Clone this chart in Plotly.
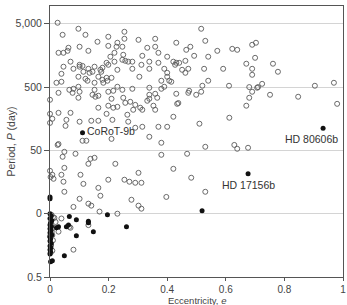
import numpy as np
import plotly.graph_objects as go

# open circles: eccentricity and period (days)
ecc_open = [0.026,0.043,0.097,0.121,0.199,0.254,0.254,0.302,0.029,0.046,0.060,0.063,0.101,0.131,0.162,0.199,0.230,0.227,0.220,0.247,
            0.206,0.250,0.257,0.247,0.267,0.281,0.315,0.070,0.046,0.039,0.022,0.039,0.029,0.080,0.101,0.101,0.111,0.097,0.114,0.131,
            0.135,0.121,0.128,0.152,0.145,0.172,0.175,0.179,0.193,0.199,0.165,0.152,0.179,0.193,0.196,0.182,0.210,0.220,0.230,0.281,
            0.305,0.312,0.281,0.247,0.230,0.216,0.199,0.066,0.080,0.077,0.097,0.101,0.152,0.145,0.155,0.165,0.097,0.210,0.250,
            0.516,0.530,0.359,0.332,0.359,0.370,0.431,0.465,0.479,0.492,0.540,0.571,0.622,0.639,0.339,0.370,0.400,0.421,0.427,0.441,
            0.431,0.462,0.339,0.390,0.400,0.451,0.472,0.462,0.526,0.591,0.400,0.407,0.414,0.380,0.390,0.380,0.339,0.540,0.520,0.611,
            0.475,0.472,0.516,0.431,0.499,0.339,0.359,0.366,0.339,
            0.690,0.703,0.700,0.670,0.690,0.690,0.761,0.778,0.680,0.710,0.707,0.724,0.690,0.680,0.751,0.847,0.904,0.969,0.980,0.670,
            0.612,0.510,
            0.000,0.000,0.008,0.029,0.070,0.056,0.053,0.101,0.141,0.165,0.193,0.216,0.230,0.257,0.274,0.291,0.284,0.315,0.213,0.267,
            0.291,0.315,0.165,0.111,0.124,0.026,0.029,0.049,0.043,0.087,0.138,0.152,0.131,0.223,0.049,0.000,0.008,0.012,0.002,0.039,
            0.046,0.104,0.114,0.165,0.199,0.254,0.271,0.291,0.312,0.210,
            0.434,0.438,0.332,0.353,0.359,0.308,0.421,0.370,0.400,0.339,0.380,0.530,0.629,0.639,0.676,0.380,0.468,0.421,0.482,0.530,
            0.302,0.049,0.101,0.172,0.131,0.141,0.080,0.169,0.230,0.278,0.302,0.312,0.397,0.039,0.015,0.019,0.029,0.008,0.066,0.080,
            0.131,0.070,0.000,0.199,0.264,
            0.005,0.010,0.003,0.012,0.006,0.000,0.010,0.004,0.008,0.002]
per_open = [5190,3350,4170,3350,3120,3740,2900,2790,1740,1740,1870,2090,2170,1870,2600,2240,2510,2170,1740,2170,
            1510,1620,1300,1350,1260,1260,1560,1260,1050,811,585,607,406,973,1125,1050,1080,728,873,973,
            841,676,630,1050,873,938,873,1010,1210,1125,728,585,652,701,630,585,701,1260,938,973,
            728,1125,470,453,506,437,422,453,470,406,506,422,453,378,352,365,339,327,339,
            4170,2690,2900,2090,2170,1740,2510,1940,2170,1560,1510,1870,2010,1940,1260,1210,1510,1260,1125,1210,
            1210,1300,973,973,841,938,973,841,973,973,728,630,607,630,506,470,488,630,525,525,
            437,406,422,392,378,378,392,339,327,
            2330,2510,1450,1170,973,782,1170,873,500,500,488,563,422,339,378,352,525,585,272,254,
            164,132,
            189,136,158,196,196,152,122,142,147,147,189,236,244,282,293,262,219,219,152,142,
            114,118,236,71,71,61,63,47.5,39.6,44.2,36.8,38.2,30.7,30.7,26.5,23.8,20.6,17.8,19.0,20.6,
            16.0,20.6,14.8,12.8,17.2,17.2,16.0,15.4,15.4,76,
            272,280,304,254,219,236,170,118,118,82,66,57,61,53,55,42.6,44.2,25.6,18.5,11.1,
            22.1,11.1,8.6,9.6,7.2,6.7,6.4,5.4,5.0,8.3,6.7,6.0,9.2,4.2,4.3,3.7,2.6,2.3,3.1,1.35,
            3.3,3.0,315,254,183,
            4.8,4.4,3.5,3.0,2.6,2.2,1.9,1.6,1.3,1.2]

# filled circles (unnamed)
ecc_fill = [0.519,0.000,0.000,0.196,0.066,0.090,0.131,0.131,0.261,0.148,0.090,0.022,0.029,0.056,0.063,0.049,0.002,0.008,
            0.000,0.004,0.000,0.006,0.002,0.000,0.005,0.000,0.003,0.000,0.006,0.000,0.002,0.000,0.004,0.000,0.003,0.000,0.002,0.000]
per_fill = [5.56,9.2,8.6,4.8,4.5,4.0,3.8,3.6,3.1,2.6,2.24,3.0,3.1,3.1,3.3,1.08,0.87,0.90,
            5.0,4.6,4.2,3.9,3.6,3.3,3.1,2.9,2.7,2.5,2.3,2.15,2.0,1.85,1.7,1.55,1.45,1.35,1.25,1.15]

# named planets
names = ["CoRoT-9b", "HD 80606b", "HD 17156b"]
ecc_named = [0.111, 0.932, 0.676]
per_named = [95, 112, 21.3]

y_tickvals = [0.5, 5, 50, 500, 5000]
y_ticktext = ["0.5", "0", "50", "500", "5,000"]
x_tickvals = [0, 0.2, 0.4, 0.6, 0.8, 1]
x_ticktext = ["0", "0.2", "0.4", "0.6", "0.8", "1"]
x_title = "Eccentricity, <i>e</i>"
y_title = "Period, <i>P</i> (day)"

font = "Liberation Sans, Arial, sans-serif"
txt = "#444444"

fig = go.Figure()
fig.add_trace(go.Scatter(x=ecc_open, y=per_open, mode="markers", cliponaxis=False,
                         marker=dict(symbol="circle-open", size=5, color="#5a5a5a", line=dict(width=0.9, color="#5a5a5a")),
                         showlegend=False))
fig.add_trace(go.Scatter(x=ecc_fill + ecc_named, y=per_fill + per_named, mode="markers", cliponaxis=False,
                         marker=dict(symbol="circle", size=5, color="#111111"),
                         showlegend=False))

# labels
fig.add_annotation(x=ecc_named[0], y=np.log10(per_named[0]), text=names[0], showarrow=False,
                   xanchor="left", yanchor="middle", xshift=2, yshift=2,
                   font=dict(family=font, size=10.5, color="#333333"))
fig.add_annotation(x=ecc_named[1], y=np.log10(per_named[1]), text=names[1], showarrow=False,
                   xanchor="right", yanchor="top", xshift=17, yshift=-3,
                   font=dict(family=font, size=10.5, color="#333333"))
fig.add_annotation(x=ecc_named[2], y=np.log10(per_named[2]), text=names[2], showarrow=False,
                   xanchor="center", yanchor="top", xshift=0, yshift=-3,
                   font=dict(family=font, size=10.5, color="#333333"))

# axis titles
fig.add_annotation(x=0.5, y=0, xref="paper", yref="paper", text=x_title, showarrow=False,
                   xanchor="center", yanchor="top", yshift=-17, borderpad=0,
                   font=dict(family=font, size=9.5, color=txt))
fig.add_annotation(x=0, y=0.5, xref="paper", yref="paper", text=y_title, showarrow=False,
                   textangle=-90, xanchor="center", yanchor="middle", xshift=-40,
                   font=dict(family=font, size=10.5, color=txt))

fig.update_layout(
    width=347, height=305,
    margin=dict(l=50, r=4, t=6, b=28, autoexpand=False),
    plot_bgcolor="white", paper_bgcolor="white",
    font=dict(family=font, size=10.5, color=txt),
    xaxis=dict(range=[0, 1], tickvals=x_tickvals, ticktext=x_ticktext,
               ticks="outside", ticklen=3, tickcolor="#555555", tickfont=dict(size=10),
               showline=True, linecolor="#555555", linewidth=1, mirror=True,
               showgrid=False, zeroline=False, automargin=False),
    yaxis=dict(type="log", range=[np.log10(0.5), 3.98], tickvals=y_tickvals, ticktext=y_ticktext,
               ticks="outside", ticklen=5, tickcolor="#555555",
               showline=True, linecolor="#555555", linewidth=1, mirror=True,
               showgrid=True, gridcolor="#d4d4d4", gridwidth=1.3, zeroline=False, automargin=False),
)

fig.write_html("out.html")
